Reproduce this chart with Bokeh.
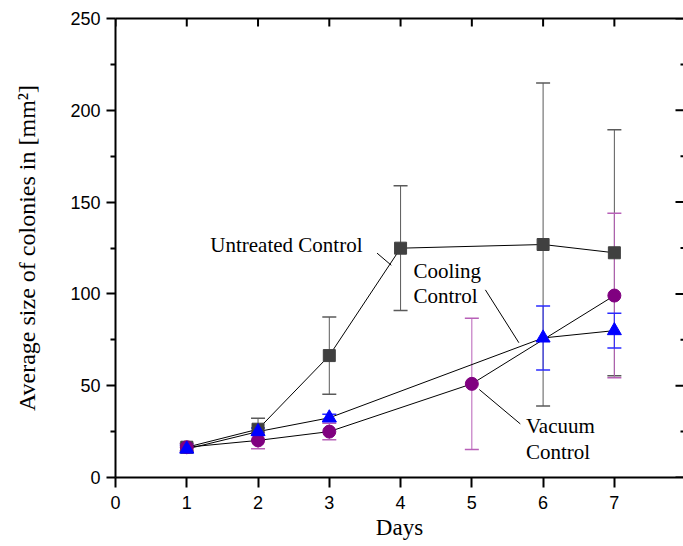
import math
from bokeh.plotting import figure
from bokeh.models import (ColumnDataSource, Whisker, TeeHead, Label, LinearAxis,
                          FixedTicker, Range1d)
from bokeh.embed import file_html
from bokeh.resources import INLINE

# ---- data ----
days_untreated = [1, 2, 3, 4, 6, 7]
untreated_mean = [16.5, 26.3, 66.4, 124.9, 126.9, 122.4]
untreated_err = [2.0, 6.0, 21.0, 34.0, 88.0, 67.0]

days_vacuum = [1, 2, 3, 5, 7]
vacuum_mean = [16.5, 20.2, 25.0, 51.0, 99.1]
vacuum_err = [2.0, 4.5, 4.5, 35.8, 44.8]

days_cooling = [1, 2, 3, 6, 7]
cooling_mean = [15.5, 25.0, 32.5, 76.0, 80.0]
cooling_err = [2.0, 2.0, 2.0, 17.4, 9.4]

x_ticks = [0, 1, 2, 3, 4, 5, 6, 7, 8]
y_major = [0, 50, 100, 150, 200, 250]
y_minor = [25, 75, 125, 175, 225]

X_END = 7.97
Y_END = 250

SERIF = "Liberation Serif"
SANS = "Liberation Sans"

def src(x, m, e):
    return ColumnDataSource(dict(x=x, y=m,
                                 lo=[a - b for a, b in zip(m, e)],
                                 hi=[a + b for a, b in zip(m, e)]))

s_unt = src(days_untreated, untreated_mean, untreated_err)
s_vac = src(days_vacuum, vacuum_mean, vacuum_err)
s_coo = src(days_cooling, cooling_mean, cooling_err)

p = figure(width=683, height=546, output_backend="svg", toolbar_location=None,
           x_range=Range1d(0, X_END), y_range=Range1d(0, Y_END),
           min_border_left=115, min_border_right=0, min_border_top=18,
           min_border_bottom=69, x_axis_label="Days",
           y_axis_label="Average size of colonies in [mm²]")
p.grid.visible = False
p.outline_line_color = None
p.background_fill_color = "white"
p.border_fill_color = "white"

# bottom axis
xa = p.xaxis[0]
xa.ticker = FixedTicker(ticks=x_ticks)
xa.major_tick_out = 10
xa.major_tick_in = 0
xa.minor_tick_out = 0
xa.minor_tick_in = 0
xa.axis_line_width = 2
xa.major_tick_line_width = 2
xa.major_label_text_font = SANS
xa.major_label_text_font_size = "18px"
xa.major_label_text_color = "black"
xa.major_label_standoff = 8
xa.axis_label_text_font = SERIF
xa.axis_label_text_font_size = "23px"
xa.axis_label_text_font_style = "normal"
xa.axis_label_text_color = "black"
xa.axis_label_standoff = 3

# left axis
ya = p.yaxis[0]
ya.ticker = FixedTicker(ticks=y_major, minor_ticks=y_minor)
ya.major_tick_out = 9
ya.major_tick_in = 0
ya.minor_tick_out = 5
ya.minor_tick_in = 0
ya.axis_line_width = 2
ya.major_tick_line_width = 2
ya.minor_tick_line_width = 2
ya.major_label_text_font = SANS
ya.major_label_text_font_size = "18px"
ya.major_label_text_color = "black"
ya.major_label_standoff = 6
ya.axis_label_text_font = SERIF
ya.axis_label_text_font_size = "24px"
ya.axis_label_text_font_style = "normal"
ya.axis_label_text_color = "black"
ya.axis_label_standoff = 27

# top frame line (no labels)
top = LinearAxis(ticker=FixedTicker(ticks=[], minor_ticks=[]),
                 major_tick_in=0, major_tick_out=0, minor_tick_in=0, minor_tick_out=0,
                 axis_line_width=2)
p.add_layout(top, "above")

# inward mirror ticks on top and right edges (half of each dash is clipped by the frame)
p.scatter(x=x_ticks, y=[Y_END] * len(x_ticks), marker="dash", angle=math.pi / 2,
          size=16, line_color="black", line_width=2)
p.scatter(x=[X_END] * len(y_major), y=y_major, marker="dash", size=16,
          line_color="black", line_width=2)
p.scatter(x=[X_END] * len(y_minor), y=y_minor, marker="dash", size=6,
          line_color="black", line_width=2)

# error bars
for s, col in [(s_unt, "#5a5a5a"), (s_vac, "#b860b8"), (s_coo, "#2a2aff")]:
    w = Whisker(source=s, base="x", upper="hi", lower="lo", line_color=col, line_width=1,
                upper_head=TeeHead(size=14, line_color=col, line_width=1.5),
                lower_head=TeeHead(size=14, line_color=col, line_width=1.5))
    p.add_layout(w)

# connecting lines
for s in (s_unt, s_vac, s_coo):
    p.line("x", "y", source=s, line_color="black", line_width=1)

# markers
p.scatter("x", "y", source=s_unt, marker="square", size=12, fill_color="#404040",
          line_color="#404040")
p.scatter("x", "y", source=s_vac, marker="circle", size=13, fill_color="#800080",
          line_color="#800080")
p.scatter("x", "y", source=s_coo, marker="triangle", size=14, fill_color="#0000ff",
          line_color="#0000ff")

# annotations
def lab(x, y, t):
    p.add_layout(Label(x=x, y=y, text=t, text_font=SERIF, text_font_size="21px",
                       text_baseline="middle", text_align="left", text_color="black"))

lab(1.33, 126.4, "Untreated Control")
lab(4.18, 112.7, "Cooling")
lab(4.18, 98.7, "Control")
lab(5.76, 27.9, "Vacuum")
lab(5.76, 13.8, "Control")

p.segment(x0=[3.67, 5.19, 5.105], y0=[122.2, 102.2, 47.9],
          x1=[3.87, 5.66, 5.68], y1=[115.6, 73.4, 29.2], line_color="black", line_width=1)

open("out.html", "w").write(file_html(p, INLINE))
